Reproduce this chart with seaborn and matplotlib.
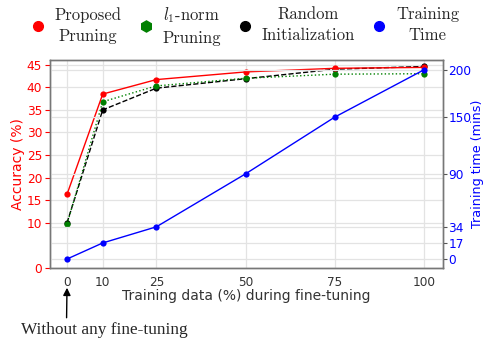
import matplotlib
matplotlib.use("Agg")
import matplotlib.pyplot as plt
from matplotlib.lines import Line2D
import seaborn as sns

# data
data_pct = [0, 10, 25, 50, 75, 100]
acc_proposed = [16.3, 38.5, 41.7, 43.4, 44.2, 44.4]
acc_l1norm = [9.7, 36.8, 40.3, 42.0, 42.9, 43.0]
acc_random = [10.0, 35.0, 39.8, 41.9, 44.0, 44.6]
train_time = [0, 17, 34, 90, 150, 200]

acc_ticks = [0, 10, 15, 20, 25, 30, 35, 40, 45]
time_ticks = [0, 17, 34, 90, 150, 200]

sns.set_style("whitegrid")
plt.rcParams["mathtext.fontset"] = "cm"
plt.rcParams["font.family"] = ["DejaVu Sans"]

fig = plt.figure(figsize=(4.84, 3.38), dpi=100)
ax = fig.add_axes([0.103, 0.207, 0.812, 0.615])
ax2 = ax.twinx()

line_kw = dict(marker="o", markersize=4.5, markeredgewidth=0, linewidth=1)
sns.lineplot(x=data_pct, y=acc_random, ax=ax, color="black", linestyle="--", **line_kw)
sns.lineplot(x=data_pct, y=acc_l1norm, ax=ax, color="green", linestyle=":", **line_kw)
sns.lineplot(x=data_pct, y=acc_proposed, ax=ax, color="red", linestyle="-", **line_kw)
sns.lineplot(x=data_pct, y=train_time, ax=ax2, color="blue", linestyle="-", **line_kw)

# axes limits / ticks
ax.set_xlim(-4.8, 105.2)
ax.set_xticks(data_pct)
ax.set_ylim(0, 46)
ax.set_yticks(acc_ticks)
ax2.set_ylim(-9.5, 210)
ax2.set_yticks(time_ticks)

grid_kw = dict(color="#e3e3e3", linewidth=0.9)
ax.grid(True, **grid_kw)
ax2.grid(True, axis="y", **grid_kw)
ax2.grid(False, axis="x")

fs = 8.7
ax.set_xlabel("Training data (%) during fine-tuning", fontsize=10, color="#333333", labelpad=0)
ax.set_ylabel("Accuracy (%)", fontsize=10, color="red", labelpad=1)
ax2.set_ylabel("Training time (mins)", fontsize=9.2, color="blue", labelpad=0)
ax.tick_params(axis="x", labelsize=fs, colors="#333333", pad=2)
ax.tick_params(axis="y", labelsize=fs, colors="red", pad=2)
ax2.tick_params(axis="y", labelsize=fs, colors="blue", right=True, length=3,
                width=0.8, pad=1)
ax2.tick_params(axis="y", which="both", color="#555555")

for a in (ax, ax2):
    for sp in a.spines.values():
        sp.set_color("#777777")
        sp.set_linewidth(1.0)

# legend above the plot, markers only
handles = [
    Line2D([], [], color="red", marker="o", linestyle="none", markersize=7),
    Line2D([], [], color="green", marker="h", linestyle="none", markersize=8),
    Line2D([], [], color="black", marker="o", linestyle="none", markersize=7),
    Line2D([], [], color="blue", marker="o", linestyle="none", markersize=7),
]
labels = ["Proposed\nPruning", "$l_1$-norm\nPruning", "Random\nInitialization", "Training\nTime"]
leg = fig.legend(handles, labels, loc="upper center", bbox_to_anchor=(0.505, 1.03),
                 ncol=4, frameon=False, prop={"family": "cmr10", "size": 12},
                 handletextpad=0.5, columnspacing=0.95, handlelength=1.0)
for t in leg.get_texts():
    t.set_multialignment("center")
    t.set_linespacing(1.45)

# annotation below the x axis
ax.annotate("Without any fine-tuning", xy=(0, -0.095), xycoords=("data", "axes fraction"),
            xytext=(10.6, -0.30), textcoords=("data", "axes fraction"),
            ha="center", va="center", fontsize=12.4, family="Liberation Serif",
            annotation_clip=False,
            arrowprops=dict(arrowstyle="-|>", color="black", lw=1, mutation_scale=11,
                            relpos=(0.27, 1.0), shrinkA=1, shrinkB=0))

fig.savefig("out.png", dpi=100)
